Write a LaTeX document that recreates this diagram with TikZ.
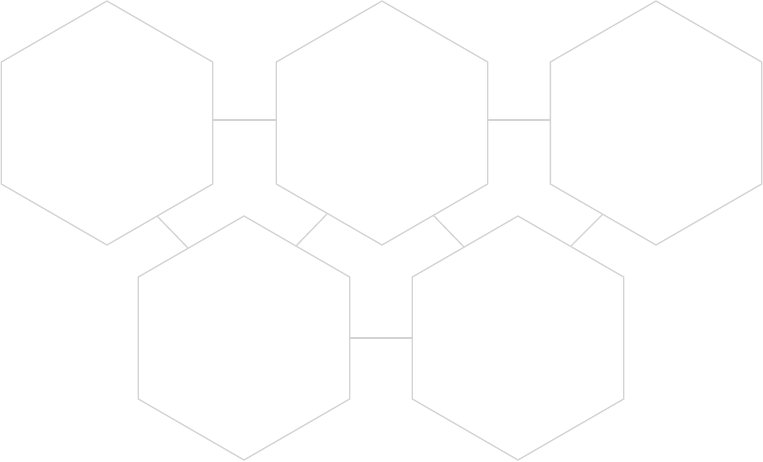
\documentclass[tikz,border=0pt]{standalone}
\usetikzlibrary{shapes.geometric,calc}
\definecolor{hexgray}{RGB}{211,211,211}
\tikzset{
  hexbox/.style={regular polygon, regular polygon sides=6, shape border rotate=30,
    minimum size=244pt, inner sep=0pt, outer sep=0pt, draw=hexgray, line width=1.3pt},
  link/.style={draw=hexgray, line width=1.3pt}
}
\begin{document}
\begin{tikzpicture}[x=1pt,y=-1pt]
\useasboundingbox (0,0) rectangle (763,461);
\node[hexbox] (t1) at (107,123) {};
\node[hexbox] (t2) at (382,123) {};
\node[hexbox] (t3) at (656,123) {};
\node[hexbox] (b1) at (244,338) {};
\node[hexbox] (b2) at (518,338) {};
\draw[link] ($(t1)+(105.66,-3)$) -- ($(t2)+(-105.66,-3)$);
\draw[link] ($(t2)+(105.66,-3)$) -- ($(t3)+(-105.66,-3)$);
\draw[link] ($(b1)+(105.66,0)$) -- ($(b2)+(-105.66,0)$);
\draw[link] ($(t1)+(50,93)$) -- ($(b1)+(-56,-90)$);
\draw[link] ($(t2)+(-55,91)$) -- ($(b1)+(52,-92)$);
\draw[link] ($(t2)+(51,92)$) -- ($(b2)+(-54,-91)$);
\draw[link] ($(t3)+(-53,91)$) -- ($(b2)+(53,-92)$);
\end{tikzpicture}
\end{document}
